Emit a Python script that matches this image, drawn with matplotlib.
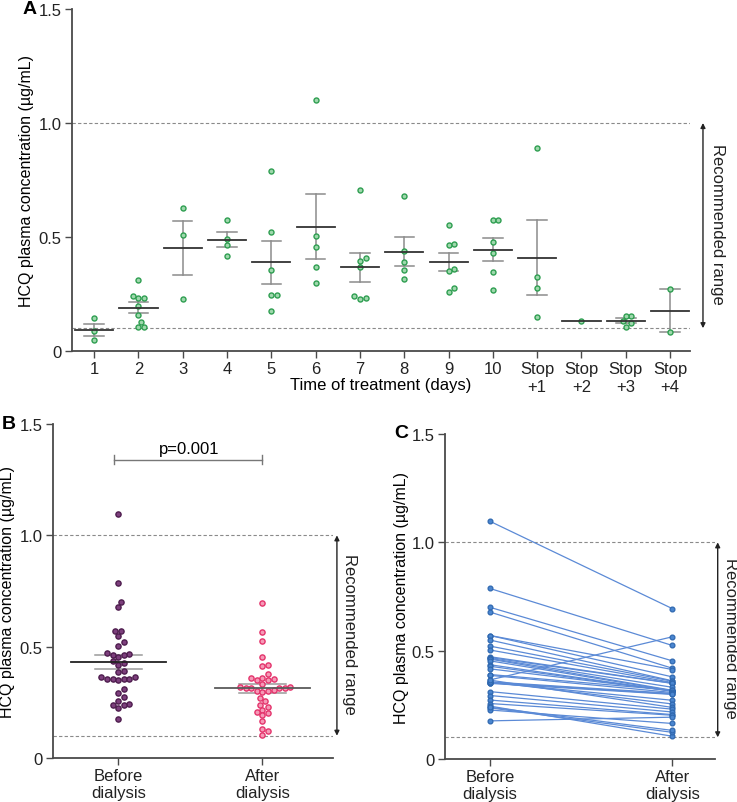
import numpy as np
import matplotlib
matplotlib.use("Agg")
import matplotlib.pyplot as plt

plt.rcParams['font.family'] = ['Liberation Sans', 'DejaVu Sans']
plt.rcParams['font.size'] = 12

# ---- data ----
days = ["1", "2", "3", "4", "5", "6", "7", "8", "9", "10",
        "Stop\n+1", "Stop\n+2", "Stop\n+3", "Stop\n+4"]
day_values = [
    [0.143, 0.088, 0.048],
    [0.313, 0.232, 0.232, 0.243, 0.196, 0.157, 0.127, 0.104, 0.104],
    [0.626, 0.507, 0.227],
    [0.576, 0.493, 0.465, 0.418],
    [0.791, 0.523, 0.355, 0.247, 0.247, 0.177],
    [1.101, 0.506, 0.456, 0.367, 0.297],
    [0.705, 0.409, 0.393, 0.367, 0.243, 0.228, 0.232],
    [0.681, 0.437, 0.389, 0.355, 0.316],
    [0.553, 0.465, 0.469, 0.360, 0.352, 0.260, 0.275],
    [0.573, 0.573, 0.477, 0.431, 0.346, 0.269],
    [0.890, 0.323, 0.276, 0.149],
    [0.132],
    [0.155, 0.155, 0.130, 0.121, 0.107],
    [0.272, 0.082],
]

# paired before / after dialysis
before = [1.097, 0.787, 0.700, 0.678, 0.570, 0.570, 0.549, 0.521, 0.503, 0.472,
          0.468, 0.464, 0.461, 0.453, 0.435, 0.428, 0.416, 0.390, 0.386, 0.365,
          0.356, 0.353, 0.349, 0.353, 0.356, 0.364, 0.311, 0.293, 0.272, 0.256,
          0.244, 0.236, 0.226, 0.239, 0.176]
after = [0.694, 0.524, 0.453, 0.419, 0.413, 0.379, 0.361, 0.359, 0.353, 0.350,
         0.349, 0.331, 0.317, 0.315, 0.313, 0.313, 0.315, 0.317, 0.307, 0.564,
         0.303, 0.300, 0.298, 0.271, 0.254, 0.238, 0.230, 0.217, 0.205, 0.202,
         0.105, 0.123, 0.164, 0.132, 0.193]
groups = ["Before\ndialysis", "After\ndialysis"]
range_lo, range_hi = 0.1, 1.0

AX_COL = "#4a4a4a"
GRID_COL = "#8a8a8a"
YLABEL = "HCQ plasma concentration (µg/mL)"


def style_axis(ax):
    for s in ["top", "right"]:
        ax.spines[s].set_visible(False)
    for s in ["left", "bottom"]:
        ax.spines[s].set_color(AX_COL)
        ax.spines[s].set_linewidth(1.3)
    ax.tick_params(colors=AX_COL, labelcolor="#222222", length=5, width=1.0,
                   labelsize=12)
    ax.tick_params(axis="x", pad=2.5)
    ax.tick_params(axis="y", pad=2.5)
    ax.set_ylim(0, 1.5)
    ax.spines["left"].set_bounds(0, 1.5)
    ax.set_yticks([0, 0.5, 1.0, 1.5])
    ax.set_yticklabels(["0", "0.5", "1.0", "1.5"])
    ax.axhline(range_lo, color=GRID_COL, lw=0.8, ls=(0, (3, 2)), zorder=0)
    ax.axhline(range_hi, color=GRID_COL, lw=0.8, ls=(0, (3, 2)), zorder=0)


def range_arrow(ax, xfrac, txt_x):
    ax.annotate("", xy=(xfrac, range_hi), xytext=(xfrac, range_lo),
                xycoords=("axes fraction", "data"),
                arrowprops=dict(arrowstyle="<|-|>", color="#222222", lw=1.0,
                                mutation_scale=7, shrinkA=0, shrinkB=0),
                annotation_clip=False)
    ax.text(txt_x, (range_hi + range_lo) / 2 + 0.01, "Recommended range",
            transform=ax.get_yaxis_transform(), rotation=-90,
            ha="center", va="center", fontsize=12, color="#222222", clip_on=False)


def swarm(ax, x0, vals, d=5.6):
    vals = np.asarray(vals, float)
    pts = ax.transData.transform(np.column_stack([np.full(len(vals), x0), vals]))
    pxu = (ax.transData.transform((1, 0)) - ax.transData.transform((0, 0)))[0]
    offs = np.zeros(len(vals))
    placed = []
    for i in np.argsort(vals):
        y = pts[i, 1]
        found = 0.0
        for k in range(0, 80):
            cands = [0.0] if k == 0 else [k * d / 2, -k * d / 2]
            ok_c = None
            for c in cands:
                if all((c - px) ** 2 + (y - py) ** 2 >= 0.9 * d * d for px, py in placed):
                    ok_c = c
                    break
            if ok_c is not None:
                found = ok_c
                break
        placed.append((found, y))
        offs[i] = found
    return x0 + offs / pxu


def mean_sem(ax, x, vals, hw_mean, hw_cap, mcol, ecol):
    v = np.asarray(vals)
    m = v.mean()
    sem = v.std(ddof=1) / np.sqrt(len(v)) if len(v) > 1 else 0
    if sem > 0:
        ax.plot([x, x], [m - sem, m + sem], color=ecol, lw=1.1, zorder=2)
        ax.plot([x - hw_cap, x + hw_cap], [m + sem] * 2, color=ecol, lw=1.1, zorder=2)
        ax.plot([x - hw_cap, x + hw_cap], [m - sem] * 2, color=ecol, lw=1.1, zorder=2)
    ax.plot([x - hw_mean, x + hw_mean], [m, m], color=mcol, lw=1.3, zorder=4)


fig = plt.figure(figsize=(7.37, 8.03), dpi=100)
W, H = 737, 803


def rect(l, r, t, b):
    return [l / W, 1 - b / H, (r - l) / W, (b - t) / H]


# ---- panel A ----
axA = fig.add_axes(rect(72, 690, 10, 352))
style_axis(axA)
xa = np.arange(1, len(days) + 1)
axA.set_xlim(0.5, 14.45)
axA.set_xticks(xa)
axA.set_xticklabels(days, linespacing=1.25)
for i, vals in enumerate(day_values):
    xs = swarm(axA, xa[i], vals)
    axA.scatter(xs, vals, s=13, facecolor="#9fd8ad", edgecolor="#2e9e50",
                linewidths=1.0, zorder=3)
    mean_sem(axA, xa[i], vals, 0.43, 0.22, "#333333", "#8c8c8c")
axA.text(0.5, -0.097, "Time of treatment (days)", transform=axA.transAxes,
         ha="center", va="center", fontsize=12)
axA.set_ylabel(YLABEL, fontsize=11.5)
axA.yaxis.set_label_coords(-0.061, 0.5)
range_arrow(axA, 1.021, 1.045)
fig.text(30 / W, 1 - 10 / H, "A", fontsize=14, fontweight="bold", ha="center", va="center")

# ---- panel B ----
axB = fig.add_axes(rect(53, 333, 425, 759))
style_axis(axB)
axB.set_xlim(-0.453, 1.49)
axB.set_xticks([0, 1])
axB.set_xticklabels(groups, linespacing=1.15)
xb = swarm(axB, 0, before)
axB.scatter(xb, before, s=14, facecolor="#7d3f7d", edgecolor="#4e1d4e",
            linewidths=1.0, zorder=3)
xaft = swarm(axB, 1, after)
axB.scatter(xaft, after, s=14, facecolor="#f59ab7", edgecolor="#e4336c",
            linewidths=1.0, zorder=3)
mean_sem(axB, 0, before, 0.33, 0.165, "#222222", "#9a9a9a")
mean_sem(axB, 1, after, 0.33, 0.165, "#5a5a5a", "#9a9a9a")
axB.plot([-0.03, 1.0], [1.34, 1.34], color="#777777", lw=1.0)
axB.plot([-0.03, -0.03], [1.32, 1.36], color="#777777", lw=1.0)
axB.plot([1.0, 1.0], [1.32, 1.36], color="#777777", lw=1.0)
axB.text(0.49, 1.39, "p=0.001", ha="center", va="center", fontsize=12)
axB.set_ylabel(YLABEL, fontsize=11.5)
axB.yaxis.set_label_coords(-0.136, 0.5)
range_arrow(axB, 1.014, 1.058)
fig.text(9 / W, 1 - 425 / H, "B", fontsize=14, fontweight="bold", ha="center", va="center")

# ---- panel C ----
axC = fig.add_axes(rect(445, 715, 435, 760))
style_axis(axC)
axC.set_xlim(-0.247, 1.234)
axC.set_xticks([0, 1])
axC.set_xticklabels(groups, linespacing=1.15)
for b, a in zip(before, after):
    axC.plot([0, 1], [b, a], color="#5b8ad6", lw=0.9, zorder=2)
axC.scatter(np.zeros(len(before)), before, s=12, facecolor="#4a86d0",
            edgecolor="#2f68b0", linewidths=0.9, zorder=3)
axC.scatter(np.ones(len(after)), after, s=12, facecolor="#4a86d0",
            edgecolor="#2f68b0", linewidths=0.9, zorder=3)
axC.set_ylabel(YLABEL, fontsize=11.5)
axC.yaxis.set_label_coords(-0.135, 0.5)
range_arrow(axC, 1.01, 1.056)
fig.text(401 / W, 1 - 433 / H, "C", fontsize=14, fontweight="bold", ha="center", va="center")

fig.savefig("out.png", dpi=100)
